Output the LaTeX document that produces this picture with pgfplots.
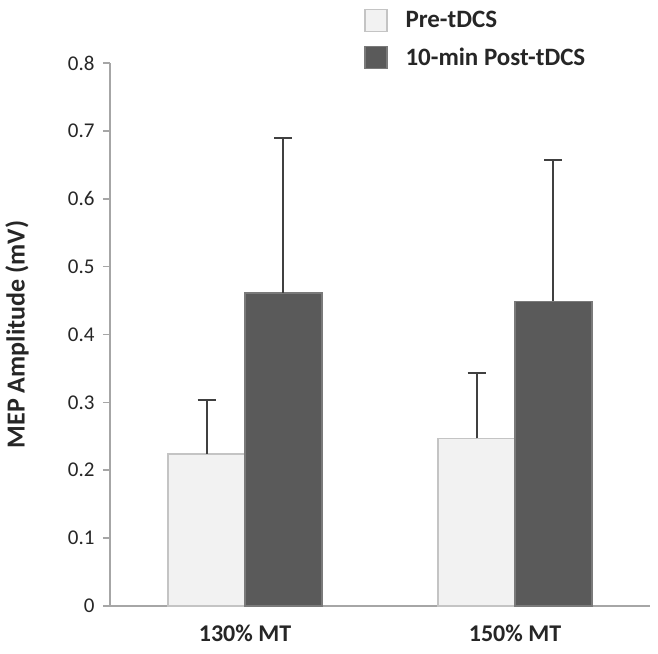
\documentclass[border=0pt]{standalone}
\usepackage{pgfplots}
\pgfplotsset{compat=1.18}
\usepackage{fontspec}
\setmainfont{Carlito}
\definecolor{prefill}{HTML}{F2F2F2}
\definecolor{predraw}{HTML}{C4C4C4}
\definecolor{postfill}{HTML}{5A5A5A}
\definecolor{postdraw}{HTML}{7A7A7A}
\definecolor{axisgray}{HTML}{A6A6A6}
\definecolor{errgray}{HTML}{404040}
\definecolor{txt}{HTML}{262626}
\pgfplotsset{myerr/.style={error bars/.cd, y dir=plus, y explicit,
  error bar style={line width=2pt, color=errgray},
  error mark options={rotate=90, mark size=9pt, line width=2pt, color=errgray}}}
\begin{document}
\begin{tikzpicture}
\path[use as bounding box] (-110pt,-47pt) rectangle (548pt,606pt);
\begin{axis}[
  scale only axis, width=540pt, height=543pt,
  xmin=-0.5, xmax=1.5, ymin=0, ymax=0.8,
  axis x line*=bottom, axis y line*=left,
  axis line style={draw=axisgray, line width=1.6pt},
  ybar=0pt, bar width=0.285,
  xtick={0,1}, xticklabels={130\% MT,150\% MT},
  major x tick style={draw=none},
  extra x ticks={-0.5,0.5,1.5}, extra x tick labels={},
  extra x tick style={major tick length=8pt, tick align=outside, tick style={draw=axisgray, line width=1.6pt}},
  ytick={0,0.1,0.2,0.3,0.4,0.5,0.6,0.7,0.8},
  major y tick style={draw=axisgray, line width=1.6pt},
  y tick label style={/pgf/number format/fixed, /pgf/number format/precision=1, font=\fontsize{21}{21}\selectfont, text=txt, xshift=-5pt},
  /pgf/number format/assume math mode=true,
  tick align=outside, major tick length=7pt,
  x tick label style={font=\bfseries\fontsize{24}{24}\selectfont, text=txt, yshift=-8pt},
  ylabel={MEP Amplitude (mV)},
  ylabel style={at={(axis description cs:-0.172,0.5)}, anchor=center, font=\bfseries\fontsize{26}{26}\selectfont, text=txt},
  legend style={at={(axis description cs:0.465,1.104)}, anchor=north west, draw=none, fill=none,
    font=\bfseries\fontsize{25}{25}\selectfont, text=txt, row sep=14pt,
    nodes={inner xsep=6pt},
    /tikz/every odd column/.append style={column sep=12pt}},
  legend cell align=left,
  legend image code/.code={\draw[#1] (0pt,-11pt) rectangle (22pt,11pt);},
]
\addplot[fill=prefill, draw=predraw, line width=1.2pt, myerr] coordinates {(0,0.224) +- (0,0.079) (1,0.247) +- (0,0.096)};
\addplot[fill=postfill, draw=postdraw, line width=1.2pt, myerr] coordinates {(0,0.461) +- (0,0.229) (1,0.449) +- (0,0.208)};
\legend{Pre-tDCS, 10-min Post-tDCS}
\end{axis}
\end{tikzpicture}
\end{document}
